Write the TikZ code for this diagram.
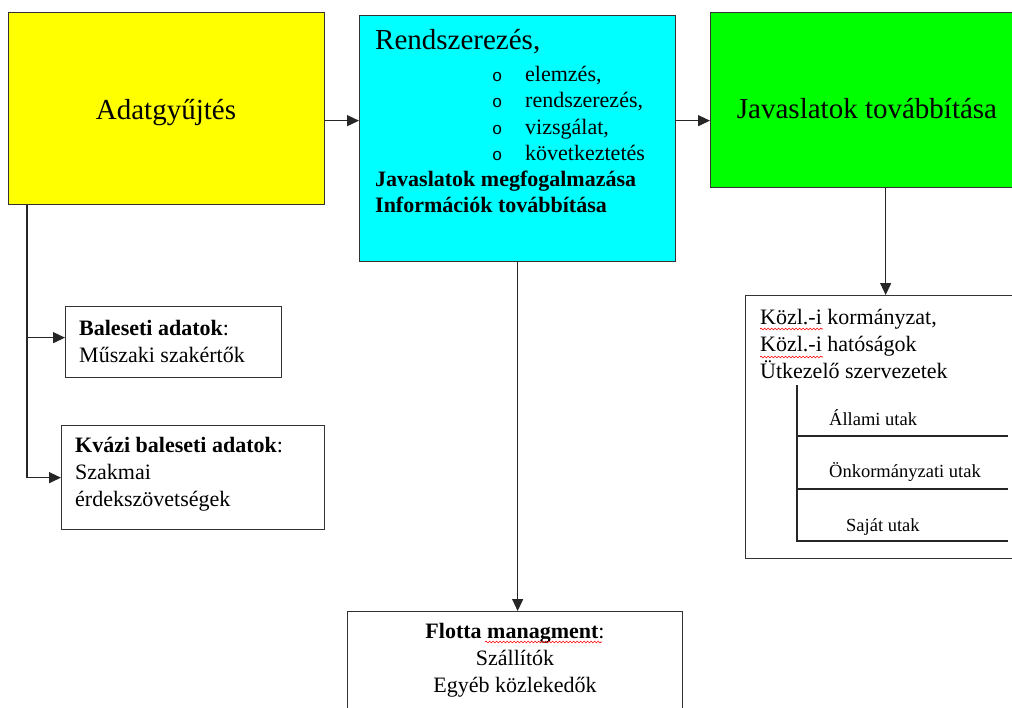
\documentclass[tikz,border=0pt]{standalone}
\usepackage{fontspec}
\setmainfont{Liberation Serif}
\newfontfamily\bulletfont{Liberation Mono}
\usetikzlibrary{arrows.meta,decorations.pathmorphing}
\definecolor{boxyellow}{RGB}{255,255,0}
\definecolor{boxcyan}{RGB}{0,255,255}
\definecolor{boxgreen}{RGB}{0,255,0}
\newcommand{\bul}{\makebox[33pt][l]{\fontsize{17}{17}\bulletfont o}}

\begin{document}
\begin{tikzpicture}[x=1pt, y=-1pt,
    box/.style={draw=black!80, line width=1.3pt, rectangle, anchor=north west, inner sep=0pt},
    big/.style={font=\fontsize{29}{34}\selectfont, inner sep=0pt},
    txt/.style={font=\fontsize{22}{27}\selectfont, inner sep=0pt, align=left, anchor=north west},
    small/.style={font=\fontsize{18.5}{22}\selectfont, inner sep=0pt, anchor=base west},
    arr/.style={draw=black!85, line width=1.3pt, -{Triangle[length=12pt,width=11pt]}},
    thinline/.style={draw=black!85, line width=1.2pt},
    wavy/.style={draw=red, line width=0.6pt, decorate, decoration={snake, amplitude=0.9pt, segment length=3.5pt}}]
    \useasboundingbox (0,0) rectangle (1012,707);
    \clip (0,0) rectangle (1012,707);

    % boxes
    \node[box, fill=boxyellow, minimum width=316pt, minimum height=192pt] (adat) at (8,12) {};
    \node[box, fill=boxcyan, minimum width=316pt, minimum height=246pt] (rend) at (359,15) {};
    \node[box, fill=boxgreen, minimum width=315pt, minimum height=175pt] (jav) at (710,12) {};
    \node[box, minimum width=216pt, minimum height=71pt] (bal) at (65,306) {};
    \node[box, minimum width=263pt, minimum height=104pt] (kvazi) at (61,425) {};
    \node[box, minimum width=280pt, minimum height=263pt] (kozl) at (745,295) {};
    \node[box, minimum width=335pt, minimum height=120pt] (flotta) at (347,611) {};

    % texts
    \node[big, anchor=base] (adatt) at (166,119) {Adatgyűjtés};
    \node[big, anchor=base west] (rendt) at (375,49) {Rendszerezés,};
    \node[txt, font=\fontsize{22}{26.5}\selectfont] (lista) at (492,62.5)
        {\strut\bul elemzés,\\
         \bul rendszerezés,\\
         \bul vizsgálat,\\
         \bul következtetés};
    \node[txt, font=\fontsize{22}{26.5}\selectfont\bfseries] (javt) at (375,167.5)
        {\strut Javaslatok megfogalmazása\\Információk továbbítása};
    \node[big, anchor=base] (tovt) at (867,118) {Javaslatok továbbítása};
    \node[txt] (balt) at (79,316) {\strut\textbf{Baleseti adatok}:\\Műszaki szakértők};
    \node[txt] (kvazit) at (75,433) {\strut\textbf{Kvázi baleseti adatok}:\\Szakmai\\érdekszövetségek};
    \node[txt] (kozlt) at (760,305) {\strut Közl.-i kormányzat,\\Közl.-i hatóságok\\Ütkezelő szervezetek};
    \node[txt, align=center, anchor=north] (flottat) at (515,619)
        {\strut\textbf{Flotta managment}:\\Szállítók\\Egyéb közlekedők};
    \node[small] (allami) at (829,425) {Állami utak};
    \node[small] (onk) at (829,477) {Önkormányzati utak};
    \node[small] (sajat) at (846,531) {Saját utak};

    % road lines
    \draw[thinline] (797,385) -- (797,541) -- (1008,541);
    \draw[thinline] (797,436) -- (1008,436);
    \draw[thinline] (797,489) -- (1008,489);

    % spelling marks
    \draw[wavy] (760,329) -- (823,329);
    \draw[wavy] (760,357) -- (823,357);
    \draw[wavy] (485,642) -- (602,642);

    % connectors
    \draw[arr] ([yshift=-12pt]adat.east) -- ([yshift=-12pt]adat.east -| rend.west);
    \draw[arr] ([yshift=-20.5pt]jav.west -| rend.east) -- ([yshift=-20.5pt]jav.west);
    \draw[arr] (kozl.north |- jav.south) -- (kozl.north);
    \draw[arr] (rend.south) -- (rend.south |- flotta.north);
    \draw[arr] ([xshift=19pt]adat.south west) |- ([yshift=4.5pt]bal.west);
    \draw[arr] ([xshift=19pt]adat.south west) |- (kvazi.west);
\end{tikzpicture}
\end{document}
